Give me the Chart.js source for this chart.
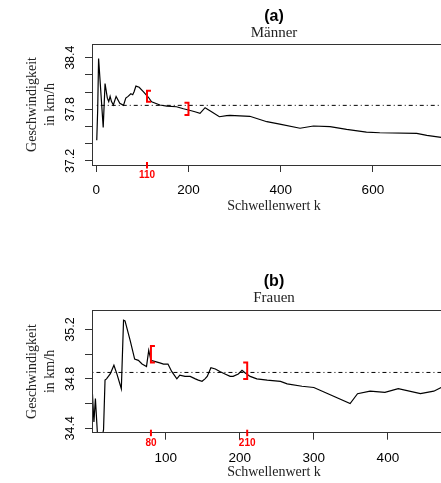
<!DOCTYPE html>
<html><head><meta charset="utf-8">
<script src="https://cdn.jsdelivr.net/npm/chart.js@4"></script>
<style>
html,body{margin:0;padding:0;background:#fff;overflow:hidden;width:441px;height:483px;position:relative;}
canvas{position:absolute;left:0;display:block;}
</style></head><body>
<canvas id="ca" width="470" height="240" style="top:0"></canvas>
<canvas id="cb" width="470" height="243" style="top:240px"></canvas>
<script>
// ---------- data: panel (a) Männer ----------
const kMen = [1, 3, 5, 15, 19, 24, 27, 30, 33, 37, 43, 51, 59, 64, 69, 75, 79, 82, 86, 93, 102, 113, 120, 138, 153, 174, 189, 200, 214, 225, 236, 250, 267, 283, 290, 333, 370, 398, 442, 471, 507, 543, 586, 615, 695, 717, 748];
const vMen = [37.44, 37.79, 38.39, 37.59, 38.10, 37.93, 37.89, 37.95, 37.89, 37.85, 37.95, 37.87, 37.846, 37.93, 37.95, 37.98, 37.97, 38.005, 38.07, 38.056, 38.005, 37.94, 37.888, 37.85, 37.838, 37.83, 37.807, 37.792, 37.772, 37.753, 37.819, 37.772, 37.714, 37.726, 37.73, 37.719, 37.656, 37.627, 37.58, 37.606, 37.598, 37.567, 37.536, 37.528, 37.521, 37.498, 37.474];
const refMen = 37.846;
const xTicksMen = [0, 200, 400, 600];
const yTicksMen = [37.2, 37.4, 37.6, 37.8, 38.0, 38.2, 38.4];
const yLabelsMen = ['37.2', '', '', '37.8', '', '', '38.4'];
const marksMen = [110];
const brKMen = [110, 200];
const brLoMen = [37.888, 37.734];
const brHiMen = [38.016, 37.877];
const brSideMen = ['open', 'close'];

// ---------- data: panel (b) Frauen ----------
const kWomen = [1, 3, 5, 8, 11, 16, 18, 20, 25, 30, 34, 40, 43, 45, 52, 58, 63, 68, 74, 77, 80, 86, 92, 97, 103, 108, 115, 119, 126, 133, 140, 144, 149, 153, 156, 161, 167, 173, 180, 187, 191, 198, 203, 207, 214, 223, 237, 255, 264, 284, 300, 349, 359, 376, 396, 414, 444, 462, 472];
const vWomen = [34.68, 34.45, 34.64, 34.33, 34.22, 34.39, 34.79, 34.80, 34.84, 34.91, 34.84, 34.72, 35.275, 35.27, 35.11, 34.96, 34.95, 34.92, 34.90, 35.03, 34.95, 34.94, 34.93, 34.92, 34.92, 34.86, 34.80, 34.83, 34.82, 34.82, 34.80, 34.79, 34.78, 34.80, 34.82, 34.89, 34.88, 34.86, 34.84, 34.82, 34.82, 34.84, 34.87, 34.85, 34.82, 34.80, 34.79, 34.78, 34.76, 34.74, 34.73, 34.60, 34.68, 34.70, 34.69, 34.72, 34.68, 34.70, 34.73];
const refWomen = 34.852;
const xTicksWomen = [100, 200, 300, 400];
const yTicksWomen = [34.4, 34.6, 34.8, 35.0, 35.2];
const yLabelsWomen = ['34.4', '', '34.8', '', '35.2'];
const marksWomen = [80, 210];
const brKWomen = [80, 210];
const brLoWomen = [34.933, 34.798];
const brHiWomen = [35.067, 34.933];
const brSideWomen = ['open', 'close'];

const SANS = '"Liberation Sans", Arial, sans-serif';
const SERIF = '"Liberation Serif", "Times New Roman", serif';

const overlay = {
  id: 'overlay',
  afterDatasetsDraw(chart, args, o) {
    const {ctx, chartArea: a, scales: {x, y}} = chart;
    ctx.save();
    ctx.strokeStyle = '#333';
    ctx.lineWidth = 1;
    ctx.strokeRect(Math.round(a.left) + 0.5, Math.round(a.top) + 0.5,
                   Math.round(a.right - a.left), Math.round(a.bottom - a.top));
    ctx.strokeStyle = '#ff0000';
    ctx.lineWidth = 2;
    o.bk.forEach((k, i) => {
      const px = x.getPixelForValue(k);
      const p1 = y.getPixelForValue(o.lo[i]);
      const p2 = y.getPixelForValue(o.hi[i]);
      const d = o.side[i] === 'open' ? 4 : -4;
      ctx.beginPath();
      ctx.moveTo(px + d, p2); ctx.lineTo(px, p2); ctx.lineTo(px, p1); ctx.lineTo(px + d, p1);
      ctx.stroke();
    });
    ctx.fillStyle = '#ff0000';
    ctx.font = 'bold 10px ' + SANS;
    ctx.textAlign = 'center';
    ctx.textBaseline = 'middle';
    o.marks.forEach(k => {
      const px = x.getPixelForValue(k);
      ctx.beginPath();
      ctx.moveTo(px, a.bottom - 3); ctx.lineTo(px, a.bottom + 3.5);
      ctx.stroke();
      ctx.fillText(String(k), px, a.bottom + 10.5);
    });
    ctx.restore();
  }
};

function makeChart(id, p) {
  const pts = p.k.map((k, i) => ({x: k, y: p.v[i]}));
  const ref = [{x: p.k[0], y: p.ref}, {x: 800, y: p.ref}];
  return new Chart(document.getElementById(id), {
    type: 'scatter',
    data: {datasets: [
      {data: pts, showLine: true, borderColor: '#000', borderWidth: 1.2, pointRadius: 0, tension: 0, clip: 0},
      {data: ref, showLine: true, borderColor: '#000', borderWidth: 1, borderDash: [1, 3, 4, 3], pointRadius: 0, clip: 0}
    ]},
    options: {
      responsive: false, animation: false, devicePixelRatio: 1,
      layout: {padding: {left: 0, right: 14, top: 0, bottom: 0}},
      plugins: {
        legend: {display: false}, tooltip: {enabled: false},
        title: {display: true, text: p.title, color: '#000', fullSize: false,
                font: {family: SANS, size: 16, weight: 'bold', lineHeight: 1.0},
                padding: {top: p.tPad, bottom: 0}},
        subtitle: {display: true, text: p.sub, color: '#222', fullSize: false,
                   font: {family: SERIF, size: 15, lineHeight: 1.0},
                   padding: {top: 1, bottom: p.sPad}},
        overlay: {bk: p.bk, lo: p.lo, hi: p.hi, side: p.side, marks: p.marks}
      },
      scales: {
        x: {
          type: 'linear', position: 'bottom', min: p.xmin, max: p.xmax,
          afterBuildTicks: s => { s.ticks = p.xt.map(v => ({value: v})); },
          afterFit: s => { s.height = p.xH; },
          grid: {drawOnChartArea: false, drawTicks: true, tickLength: 7, tickColor: '#333', tickWidth: 1},
          border: {display: false},
          ticks: {color: '#000', font: {family: SANS, size: 13.5}, padding: 10, autoSkip: false, maxRotation: 0,
                  callback: v => String(v)},
          title: {display: true, text: 'Schwellenwert k', color: '#222',
                  font: {family: SERIF, size: 14, lineHeight: 1.2}, padding: {top: 0, bottom: p.xtPad}}
        },
        y: {
          type: 'linear', position: 'left', min: p.ymin, max: p.ymax,
          afterBuildTicks: s => { s.ticks = p.yt.map(v => ({value: v})); },
          afterFit: s => { s.width = 92; },
          grid: {drawOnChartArea: false, drawTicks: true, tickLength: 7, tickColor: '#333', tickWidth: 1},
          border: {display: false},
          ticks: {color: '#000', font: {family: SANS, size: 12.5}, padding: 2.5, autoSkip: false,
                  minRotation: 90, maxRotation: 90, crossAlign: 'center',
                  callback: (v, i) => p.yl[i]},
          title: {display: true, text: ['Geschwindigkeit', 'in km/h'], color: '#222',
                  font: {family: SERIF, size: 14, lineHeight: 1.3}, padding: {top: 23.4, bottom: 0}}
        }
      }
    },
    plugins: [overlay]
  });
}

makeChart('ca', {
  k: kMen, v: vMen, ref: refMen, title: '(a)', sub: 'Männer',
  tPad: 8.5, sPad: 3.5, xH: 75, xtPad: 25.6,
  xmin: -9.3, xmax: 780.3, ymin: 37.153, ymax: 38.559,
  xt: xTicksMen, yt: yTicksMen, yl: yLabelsMen,
  bk: brKMen, lo: brLoMen, hi: brHiMen, side: brSideMen, marks: marksMen
});
makeChart('cb', {
  k: kWomen, v: vWomen, ref: refWomen, title: '(b)', sub: 'Frauen',
  tPad: 34, sPad: 4.2, xH: 50.3, xtPad: 2.1,
  xmin: 0.4, xmax: 492, ymin: 34.364, ymax: 35.356,
  xt: xTicksWomen, yt: yTicksWomen, yl: yLabelsWomen,
  bk: brKWomen, lo: brLoWomen, hi: brHiWomen, side: brSideWomen, marks: marksWomen
});
</script>
</body></html>
